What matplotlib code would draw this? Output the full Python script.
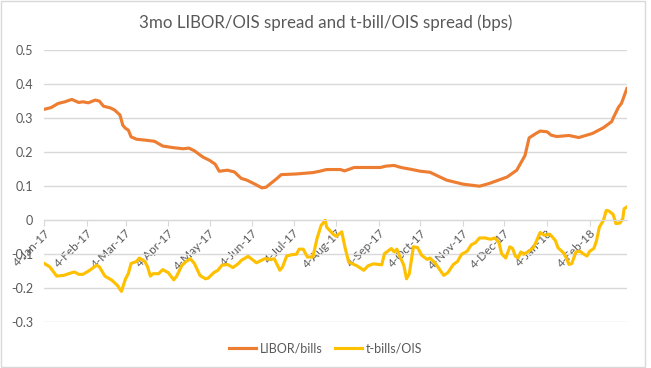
import matplotlib
matplotlib.use("Agg")
import matplotlib.pyplot as plt
import matplotlib.dates as mdates
import pandas as pd
from matplotlib.patches import Rectangle

# days since 4-Jan-17 and spread values
libor_days = [0, 5, 10, 15, 20, 25, 28, 32, 37, 40, 43, 48, 51, 55, 57, 59, 61, 63,
              67, 74, 80, 86, 94, 101, 105, 109, 115, 120, 124, 127, 133, 138, 143,
              147, 153, 158, 161, 165, 169, 172, 183, 195, 200, 205, 215, 218, 225,
              244, 248, 254, 259, 267, 273, 280, 292, 304, 316, 323, 336, 343, 349,
              352, 357, 360, 365, 368, 372, 381, 388, 398, 406, 412, 413, 417, 419, 423]
libor_vals = [0.326, 0.331, 0.343, 0.348, 0.355, 0.346, 0.348, 0.345, 0.353, 0.350,
              0.335, 0.330, 0.324, 0.309, 0.279, 0.270, 0.265, 0.245, 0.238, 0.235,
              0.232, 0.218, 0.213, 0.210, 0.212, 0.204, 0.186, 0.176, 0.165, 0.144,
              0.147, 0.142, 0.123, 0.118, 0.106, 0.095, 0.097, 0.110, 0.123, 0.134,
              0.136, 0.140, 0.144, 0.149, 0.149, 0.145, 0.155, 0.155, 0.159, 0.161,
              0.155, 0.149, 0.144, 0.141, 0.118, 0.106, 0.100, 0.108, 0.127, 0.147,
              0.190, 0.242, 0.255, 0.262, 0.260, 0.250, 0.246, 0.249, 0.243, 0.255,
              0.272, 0.290, 0.300, 0.333, 0.343, 0.387]

tbill_days = [0, 4, 9, 14, 20, 22, 25, 28, 33, 38, 40, 44, 49, 53, 56, 59, 61, 63, 67,
              69, 73, 75, 77, 79, 83, 86, 90, 94, 96, 100, 103, 106, 109, 113, 117, 119,
              123, 126, 129, 133, 137, 141, 143, 148, 154, 160, 165, 167, 171, 173, 176,
              180, 183, 185, 188, 191, 195, 198, 201, 204, 205, 210, 212, 216, 218, 221,
              227, 232, 235, 239, 245, 247, 252, 254, 256, 258, 261, 263, 265, 268, 271,
              274, 278, 280, 284, 290, 293, 297, 300, 303, 307, 310, 313, 316, 320, 324,
              327, 330, 332, 335, 338, 340, 342, 344, 346, 348, 351, 355, 357, 360, 363,
              367, 371, 373, 377, 379, 381, 383, 386, 389, 391, 394, 396, 399, 401, 403,
              406, 408, 410, 413, 415, 418, 420, 421, 423]
tbill_vals = [-0.127, -0.137, -0.164, -0.162, -0.154, -0.152, -0.159, -0.159, -0.147,
              -0.132, -0.137, -0.164, -0.176, -0.191, -0.209, -0.172, -0.157, -0.127,
              -0.121, -0.111, -0.121, -0.137, -0.164, -0.157, -0.157, -0.145, -0.154,
              -0.175, -0.165, -0.132, -0.121, -0.113, -0.127, -0.162, -0.172, -0.170,
              -0.154, -0.147, -0.132, -0.130, -0.139, -0.127, -0.118, -0.106, -0.125,
              -0.113, -0.115, -0.113, -0.147, -0.137, -0.105, -0.101, -0.100, -0.085,
              -0.085, -0.108, -0.108, -0.054, -0.015, 0.000, -0.020, -0.042, -0.047,
              -0.034, -0.074, -0.123, -0.134, -0.147, -0.134, -0.128, -0.131, -0.098,
              -0.083, -0.093, -0.085, -0.105, -0.132, -0.172, -0.157, -0.078, -0.080,
              -0.103, -0.115, -0.111, -0.127, -0.162, -0.154, -0.130, -0.121, -0.100,
              -0.091, -0.072, -0.066, -0.052, -0.052, -0.056, -0.052, -0.064, -0.098,
              -0.111, -0.078, -0.083, -0.105, -0.111, -0.093, -0.100, -0.093, -0.081,
              -0.064, -0.036, -0.044, -0.041, -0.059, -0.081, -0.096, -0.111, -0.130,
              -0.127, -0.093, -0.091, -0.098, -0.105, -0.091, -0.083, -0.059, -0.020,
              0.000, 0.029, 0.027, 0.017, -0.010, -0.008, 0.005, 0.034, 0.039]

start = pd.Timestamp("2017-01-04")
libor_dates = start + pd.to_timedelta(libor_days, unit="D")
tbill_dates = start + pd.to_timedelta(tbill_days, unit="D")

# ticks on the 4th of every month
tick_dates = pd.date_range("2017-01-01", "2018-02-01", freq="MS") + pd.Timedelta(days=3)
yticks = [-0.3, -0.2, -0.1, 0, 0.1, 0.2, 0.3, 0.4, 0.5]
ytick_labels = ["-0.3", "-0.2", "-0.1", "0", "0.1", "0.2", "0.3", "0.4", "0.5"]

plt.rcParams["font.family"] = ["Lato", "DejaVu Sans"]
grey = "#595959"

fig = plt.figure(figsize=(6.51, 3.68), dpi=100)
ax = fig.add_axes([0.068, 0.124, 0.895, 0.740])
fig.patches.append(Rectangle((0.001, 0.004), 0.990, 0.994, transform=fig.transFigure,
                             fill=False, edgecolor="#d9d9d9", linewidth=1))

ax.plot(libor_dates, libor_vals, color="#ED7D31", linewidth=2.25, label="LIBOR/bills",
        solid_joinstyle="round")
ax.plot(tbill_dates, tbill_vals, color="#FFC000", linewidth=2.25, label="t-bills/OIS",
        solid_joinstyle="round")

ax.set_ylim(-0.3, 0.5)
ax.set_xlim(start, start + pd.Timedelta(days=423))
ax.set_yticks(yticks)
ax.set_yticklabels(ytick_labels)
ax.grid(axis="y", color="#d9d9d9", linewidth=1)
ax.set_axisbelow(True)
for s in ["top", "right", "left"]:
    ax.spines[s].set_visible(False)
ax.spines["bottom"].set_position(("data", 0))
ax.spines["bottom"].set_color("#d9d9d9")
ax.tick_params(axis="y", length=0, labelsize=9, labelcolor=grey, pad=8)
ax.tick_params(axis="x", length=4, color="#d9d9d9", labelsize=8.5, labelcolor=grey, pad=1)
ax.set_xticks(tick_dates)
ax.xaxis.set_major_formatter(mdates.DateFormatter("%-d-%b-%y"))
for lbl in ax.get_xticklabels():
    lbl.set_rotation(45)
    lbl.set_ha("right")
    lbl.set_rotation_mode("anchor")

fig.suptitle("3mo LIBOR/OIS spread and t-bill/OIS spread (bps)", x=0.5, y=0.962,
             fontsize=12.2, color=grey)
fig.legend(loc="center", bbox_to_anchor=(0.5, 0.054), ncol=2, frameon=False,
           fontsize=9, labelcolor=grey, handlelength=2.15, columnspacing=1.0,
           handletextpad=0.3)

fig.savefig("out.png", dpi=100)
